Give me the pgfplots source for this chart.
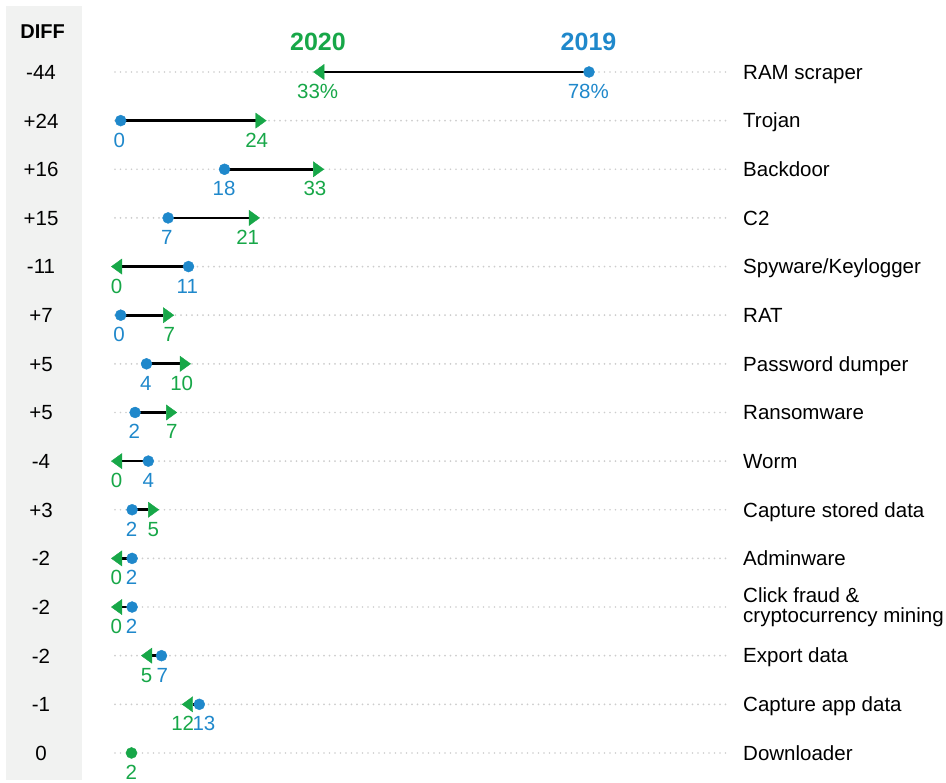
\documentclass[border=0pt]{standalone}
\usepackage{fontspec}
\setmainfont{Liberation Sans}
\usepackage{pgfplots}
\pgfplotsset{compat=1.18}
\usepackage{pgfplotstable}
\definecolor{cblue}{HTML}{1F88CB}
\definecolor{cgreen}{HTML}{17A748}
\definecolor{band}{HTML}{F1F2F1}
\definecolor{dotgray}{HTML}{CDCDCD}

% 2019 values (blue dots), position along the 0-100 % scale
\pgfplotstableread{
row v19
1 78.05
2 0
3 17.3
4 7.9
5 11.3
6 0
7 4.3
8 2.4
9 4.6
10 1.9
11 1.9
12 1.9
13 6.8
14 13.1
}\bluedata
% 2020 values, increases (arrow pointing right)
\pgfplotstableread{
row v20
2 22.5
3 32.1
4 21.4
6 7.1
7 9.9
8 7.6
10 4.6
}\updata
% 2020 values, decreases (arrow pointing left)
\pgfplotstableread{
row v20
1 33.9
5 0.2
9 0.2
11 0.2
12 0.2
13 5.2
14 12.0
}\downdata
% unchanged
\pgfplotstableread{
row v20
15 1.8
}\samedata

\newcommand\lf{\fontsize{20.5}{19.7}\selectfont}
\tikzset{
  blab/.style={anchor=base, yshift=-26.5pt, text=cblue, font=\lf},
  glab/.style={anchor=base, yshift=-26.5pt, text=cgreen, font=\lf},
  cat/.style={anchor=base west, yshift=-7.3pt, font=\lf, align=left, inner sep=0pt},
  dif/.style={anchor=base, yshift=-7.4pt, font=\lf},
}
\pgfplotsset{seg/.style={black, line width=2.7pt, forget plot}}
\begin{document}
\begin{tikzpicture}
\begin{axis}[
  x=6pt, y=48.64pt, y dir=reverse,
  xmin=-0.95, xmax=101.2, ymin=0.5, ymax=15.5,
  hide axis, clip=false,
]
% bounding box and left band
\path (axis cs:-20.117,-0.48) rectangle (axis cs:137.55,15.556);
\fill[band] (axis cs:-19.12,-0.357) rectangle (axis cs:-6.5,15.556);

% dotted row guides
\pgfplotsinvokeforeach{1,...,15}{
  \addplot[dotgray, line width=1.9pt, line cap=round, dash pattern=on 0pt off 5.5pt, forget plot] coordinates {(-0.95,#1) (101.2,#1)};
}
% segments from 2019 to 2020
\addplot[seg] coordinates {(78.05,1) (33.9,1)};
\addplot[seg] coordinates {(0,2) (22.5,2)};
\addplot[seg] coordinates {(17.3,3) (32.1,3)};
\addplot[seg] coordinates {(7.9,4) (21.4,4)};
\addplot[seg] coordinates {(11.3,5) (0.2,5)};
\addplot[seg] coordinates {(0,6) (7.1,6)};
\addplot[seg] coordinates {(4.3,7) (9.9,7)};
\addplot[seg] coordinates {(2.4,8) (7.6,8)};
\addplot[seg] coordinates {(4.6,9) (0.2,9)};
\addplot[seg] coordinates {(1.9,10) (4.6,10)};
\addplot[seg] coordinates {(1.9,11) (0.2,11)};
\addplot[seg] coordinates {(1.9,12) (0.2,12)};
\addplot[seg] coordinates {(6.8,13) (5.2,13)};
\addplot[seg] coordinates {(13.1,14) (12.0,14)};

% 2020 arrow heads
\addplot[only marks, mark=triangle*, mark size=7pt, color=cgreen,
  mark options={rotate=-90, yshift=3.5pt, xscale=1.25}] table[x=v20, y=row] {\updata};
\addplot[only marks, mark=triangle*, mark size=7pt, color=cgreen,
  mark options={rotate=90, yshift=3.5pt, xscale=1.25}] table[x=v20, y=row] {\downdata};
\addplot[only marks, mark=*, mark size=5.5pt, color=cgreen] table[x=v20, y=row] {\samedata};
% 2019 dots
\addplot[only marks, mark=*, mark size=5.5pt, color=cblue] table[x=v19, y=row] {\bluedata};

% headers
\node[anchor=base, font=\fontsize{20}{20}\selectfont\bfseries, yshift=33.1pt] at (axis cs:-13.0,1) {DIFF};
\node[anchor=base, font=\fontsize{25}{25}\selectfont\bfseries, text=cgreen, yshift=21pt] at (axis cs:32.88,1) {2020};
\node[anchor=base, font=\fontsize{25}{25}\selectfont\bfseries, text=cblue, yshift=21pt] at (axis cs:77.97,1) {2019};

% value labels
\node[glab] at (axis cs:32.83,1) {33\%};   \node[blab] at (axis cs:77.93,1) {78\%};
\node[blab] at (axis cs:-0.23,2) {0};      \node[glab] at (axis cs:22.67,2) {24};
\node[blab] at (axis cs:17.22,3) {18};     \node[glab] at (axis cs:32.38,3) {33};
\node[blab] at (axis cs:7.67,4) {7};       \node[glab] at (axis cs:21.17,4) {21};
\node[glab] at (axis cs:-0.67,5) {0};      \node[blab] at (axis cs:11.1,5) {11};
\node[blab] at (axis cs:-0.28,6) {0};      \node[glab] at (axis cs:8.1,6) {7};
\node[blab] at (axis cs:4.17,7) {4};       \node[glab] at (axis cs:10.17,7) {10};
\node[blab] at (axis cs:2.27,8) {2};       \node[glab] at (axis cs:8.5,8) {7};
\node[glab] at (axis cs:-0.67,9) {0};      \node[blab] at (axis cs:4.6,9) {4};
\node[blab] at (axis cs:1.83,10) {2};      \node[glab] at (axis cs:5.43,10) {5};
\node[glab] at (axis cs:-0.73,11) {0};     \node[blab] at (axis cs:1.83,11) {2};
\node[glab] at (axis cs:-0.73,12) {0};     \node[blab] at (axis cs:1.83,12) {2};
\node[glab] at (axis cs:4.33,13) {5};      \node[blab] at (axis cs:6.93,13) {7};
\node[glab] at (axis cs:10.33,14) {12};    \node[blab] at (axis cs:13.88,14) {13};
\node[glab] at (axis cs:1.77,15) {2};

% category labels
\node[cat] at (axis cs:103.72,1) {RAM scraper};
\node[cat] at (axis cs:103.72,2) {Trojan};
\node[cat] at (axis cs:103.72,3) {Backdoor};
\node[cat] at (axis cs:103.72,4) {C2};
\node[cat] at (axis cs:103.72,5) {Spyware/Keylogger};
\node[cat] at (axis cs:103.72,6) {RAT};
\node[cat] at (axis cs:103.72,7) {Password dumper};
\node[cat] at (axis cs:103.72,8) {Ransomware};
\node[cat] at (axis cs:103.72,9) {Worm};
\node[cat] at (axis cs:103.72,10) {Capture stored data};
\node[cat] at (axis cs:103.72,11) {Adminware};
\node[anchor=west, font=\lf, align=left, inner sep=0pt] at (axis cs:103.72,12) {Click fraud \&\\cryptocurrency mining};
\node[cat] at (axis cs:103.72,13) {Export data};
\node[cat] at (axis cs:103.72,14) {Capture app data};
\node[cat] at (axis cs:103.72,15) {Downloader};

% diff column
\node[dif] at (axis cs:-13.28,1) {-44};
\node[dif] at (axis cs:-13.28,2) {+24};
\node[dif] at (axis cs:-13.28,3) {+16};
\node[dif] at (axis cs:-13.28,4) {+15};
\node[dif] at (axis cs:-13.28,5) {-11};
\node[dif] at (axis cs:-13.28,6) {+7};
\node[dif] at (axis cs:-13.28,7) {+5};
\node[dif] at (axis cs:-13.28,8) {+5};
\node[dif] at (axis cs:-13.28,9) {-4};
\node[dif] at (axis cs:-13.28,10) {+3};
\node[dif] at (axis cs:-13.28,11) {-2};
\node[dif] at (axis cs:-13.28,12) {-2};
\node[dif] at (axis cs:-13.28,13) {-2};
\node[dif] at (axis cs:-13.28,14) {-1};
\node[dif] at (axis cs:-13.28,15) {0};
\end{axis}
\end{tikzpicture}
\end{document}
